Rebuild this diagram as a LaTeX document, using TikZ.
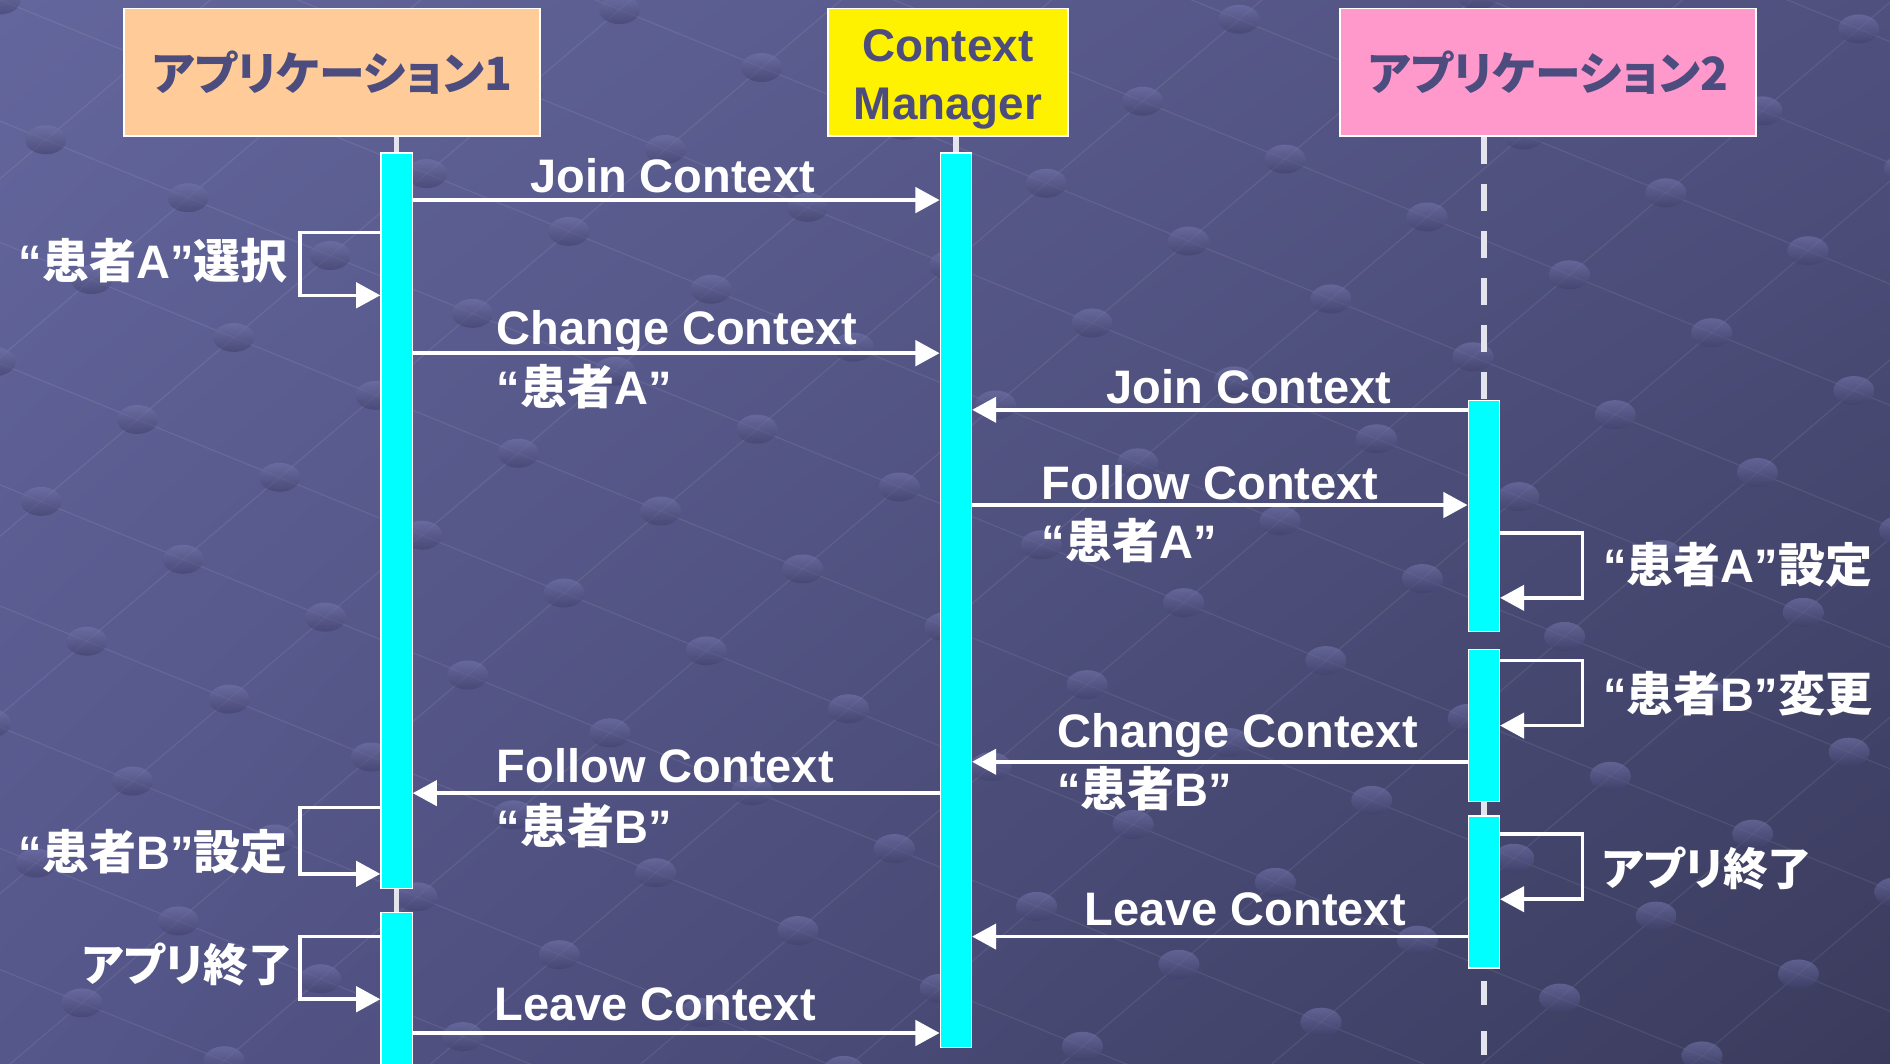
\documentclass[tikz,border=0pt]{standalone}
\usepackage{fontspec}
\setmainfont{Liberation Sans}
\newfontfamily\jp{Noto Sans CJK JP}
\newfontfamily\jpp{Noto Sans CJK JP}[RawFeature=+palt]
\usetikzlibrary{arrows.meta,shadings}
\definecolor{boxtxt}{HTML}{4C4C7E}
\definecolor{peach}{HTML}{FFCC99}
\definecolor{pinkbox}{HTML}{FF99CC}
\definecolor{barcyan}{HTML}{00FFFF}
\definecolor{lifeln}{HTML}{E4E4EE}
\definecolor{bgA}{HTML}{63669C}
\definecolor{bgB}{HTML}{4F507E}
\definecolor{bgC}{HTML}{55568A}
\definecolor{bgD}{HTML}{3A3B5C}
\definecolor{dotT}{HTML}{7476AC}
\definecolor{dotB}{HTML}{3F406A}
\newcommand\J[1]{{\jp #1}}
\newcommand\K[1]{{\jpp #1}}
\begin{document}
\begin{tikzpicture}[x=1pt,y=-1pt,
  hdr/.style={draw=white, line width=1.5pt, inner sep=0pt, text=boxtxt,
    font=\bfseries\fontsize{38}{40}\selectfont},
  actbar/.style={draw=white, line width=1pt, fill=barcyan, inner sep=0pt,
    minimum width=26pt},
  life/.style={draw=lifeln, line width=4.5pt},
  msg/.style={draw=white, line width=3pt, -{Triangle[length=20pt,width=21pt]}},
  lbl/.style={text=white, inner sep=0pt, font=\bfseries\fontsize{39}{44}\selectfont},
  latline/.style={draw=white, opacity=0.08, line width=1pt}]
\useasboundingbox (0,0) rectangle (1568,882);
\begin{scope}
\clip (0,0) rectangle (1568,882);
\shade[upper left=bgA, upper right=bgB, lower left=bgC, lower right=bgD] (0,0) rectangle (1568,882);
% background lattice
\foreach \j in {-16,...,10}
  \draw[latline] ({118*(-5)+80*\j},{48*(-5)-68*\j}) -- ({118*16+80*\j},{48*16-68*\j});
\foreach \i in {-5,...,16}
  \draw[latline] ({118*\i+80*(-16)},{48*\i-68*(-16)}) -- ({118*\i+80*10},{48*\i-68*10});
\foreach \i in {-5,...,16}{
  \foreach \j in {-16,...,10}{
    \pgfmathsetmacro\px{118*\i+80*\j}
    \pgfmathsetmacro\py{48*\i-68*\j}
    \pgfmathparse{and(and(\px>-30,\px<1600),and(\py>-30,\py<910))}
    \ifnum\pgfmathresult=1
      \shade[top color=dotT, bottom color=dotB, opacity=0.6] (\px,\py) ellipse (17pt and 12pt);
    \fi
  }
}

% header boxes
\node[hdr, fill=peach, minimum width=345pt, minimum height=106pt] (a1) at (275.5,60) {\K{アプリケーション1}};
\node[hdr, fill=yellow, minimum width=199pt, minimum height=106pt] (cm) at (786.5,60) {};
\node[hdr, align=center, draw=none, font=\bfseries\fontsize{38}{48}\selectfont] (cmtxt) at ([yshift=-6pt]cm.center) {Context\\Manager};
\node[hdr, fill=pinkbox, minimum width=345pt, minimum height=106pt] (a2) at (1284.5,60) {\K{アプリケーション2}};

% activation bars
\node[actbar, minimum height=610pt] (a1barA) at (329,432) {};
\node[actbar, minimum height=143pt] (a1barB) at (329,828.5) {};
\node[actbar, minimum height=742pt] (cmbar) at (793,498) {};
\node[actbar, minimum height=192pt] (a2barA) at (1231,428) {};
\node[actbar, minimum height=126pt] (a2barB) at (1231,602) {};
\node[actbar, minimum height=126pt] (a2barC) at (1231,740) {};
\coordinate (a2end) at (1231,882);

% lifelines
\draw[life] (a1barA.north |- a1.south) -- (a1barA.north);
\draw[life] (a1barA.south) -- (a1barB.north);
\draw[life] (cmbar.north |- cm.south) -- (cmbar.north);
\draw[life, dash pattern=on 22pt off 17pt] (a2barA.north |- a2.south) -- (a2barA.north);
\draw[life] (a2barB.south) -- (a2barC.north);
\draw[life, dash pattern=on 20pt off 22pt, dash phase=32pt] (a2barC.south) -- (a2end);

% messages
\draw[msg] (a1barA.east |- 0,166) -- (cmbar.west |- 0,166);
\draw[msg] (a1barA.west |- 0,193) -- (249,193) -- (249,245) -- (a1barA.west |- 0,245);
\draw[msg] (a1barA.east |- 0,293) -- (cmbar.west |- 0,293);
\draw[msg] (a2barA.west |- 0,340) -- (cmbar.east |- 0,340);
\draw[msg] (cmbar.east |- 0,419) -- (a2barA.west |- 0,419);
\draw[msg] (a2barA.east |- 0,442) -- (1313,442) -- (1313,496) -- (a2barA.east |- 0,496);
\draw[msg] (a2barB.east |- 0,548) -- (1313,548) -- (1313,602) -- (a2barB.east |- 0,602);
\draw[msg] (a2barB.west |- 0,632) -- (cmbar.east |- 0,632);
\draw[msg] (cmbar.west |- 0,658) -- (a1barA.east |- 0,658);
\draw[msg] (a1barA.west |- 0,670) -- (249,670) -- (249,725) -- (a1barA.west |- 0,725);
\draw[msg] (a2barC.east |- 0,692) -- (1313,692) -- (1313,746) -- (a2barC.east |- 0,746);
\draw[msg] (a2barC.west |- 0,777) -- (cmbar.east |- 0,777);
\draw[msg] (a1barB.west |- 0,777) -- (249,777) -- (249,829) -- (a1barB.west |- 0,829);
\draw[msg] (a1barB.east |- 0,857) -- (cmbar.west |- 0,857);

% labels
\node[lbl, anchor=base] (t1) at (558,160) {Join Context};
\node[lbl, anchor=base east] (s0) at (239,231) {“\J{患者}A”\J{選択}};
\node[lbl, anchor=base west] (t2a) at (412,286) {Change Context};
\node[lbl, anchor=base west] (t2b) at (412,336) {“\J{患者}A”};
\node[lbl, anchor=base] (t3) at (1036,335) {Join Context};
\node[lbl, anchor=base west] (t4a) at (864,414) {Follow Context};
\node[lbl, anchor=base west] (t4b) at (864,463) {“\J{患者}A”};
\node[lbl, anchor=base west] (s1) at (1330,483) {“\J{患者}A”\J{設定}};
\node[lbl, anchor=base west] (s2) at (1330,590) {“\J{患者}B”\J{変更}};
\node[lbl, anchor=base west] (t5a) at (877,620) {Change Context};
\node[lbl, anchor=base west] (t5b) at (877,669) {“\J{患者}B”};
\node[lbl, anchor=base west] (t6a) at (412,649) {Follow Context};
\node[lbl, anchor=base west] (t6b) at (412,700) {“\J{患者}B”};
\node[lbl, anchor=base east] (s3) at (239,721) {“\J{患者}B”\J{設定}};
\node[lbl, anchor=base west, font=\bfseries\fontsize{37}{44}\selectfont] (s4) at (1329,735) {\K{アプリ終了}};
\node[lbl, anchor=base] (t7) at (1033,768) {Leave Context};
\node[lbl, anchor=base east, font=\bfseries\fontsize{37}{44}\selectfont] (s5) at (243,814) {\K{アプリ終了}};
\node[lbl, anchor=base west] (t8) at (410,847) {Leave Context};
\end{scope}
\end{tikzpicture}
\end{document}
